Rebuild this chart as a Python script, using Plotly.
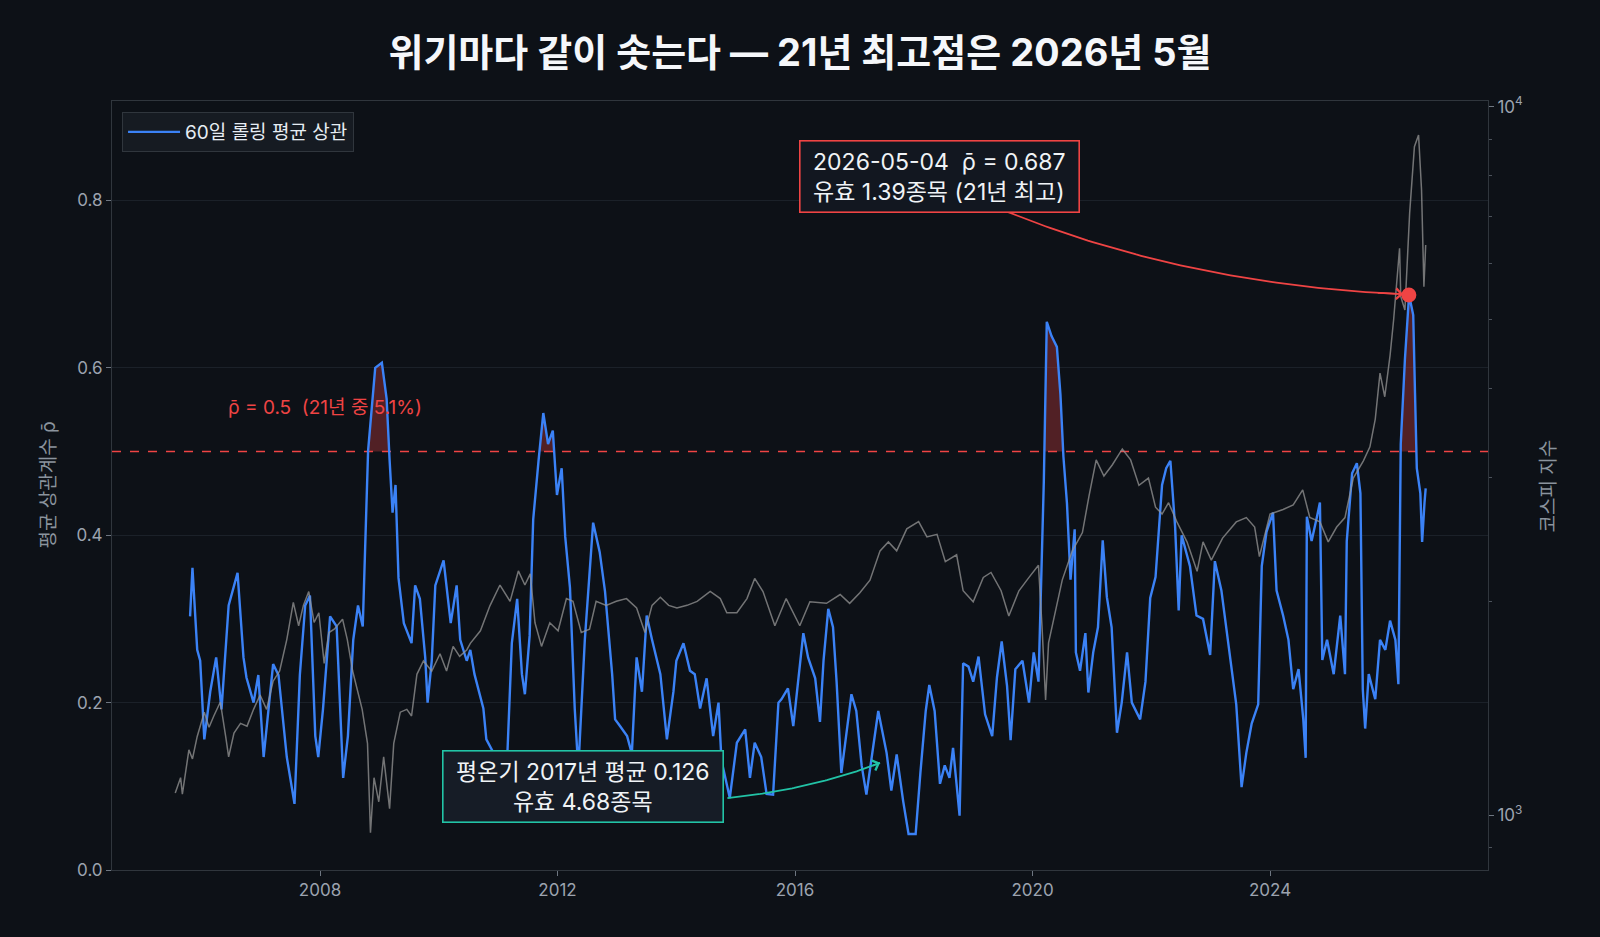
import numpy as np
import pandas as pd
import plotly.graph_objects as go

# 60-day rolling mean correlation (decimal year, value)
corr_t = [
    2005.81, 2005.85, 2005.93, 2005.98, 2006.05, 2006.15, 2006.25, 2006.34, 2006.46, 2006.61,
    2006.71, 2006.76, 2006.88, 2006.96, 2007.05, 2007.21, 2007.30, 2007.44, 2007.57, 2007.66,
    2007.75, 2007.83, 2007.92, 2007.97, 2008.05, 2008.17, 2008.28, 2008.39, 2008.47, 2008.56,
    2008.64, 2008.72, 2008.81, 2008.93, 2009.04, 2009.12, 2009.17, 2009.22, 2009.27, 2009.32,
    2009.41, 2009.54, 2009.60, 2009.68, 2009.77, 2009.81, 2009.88, 2009.94, 2010.08, 2010.20,
    2010.30, 2010.36, 2010.47, 2010.53, 2010.60, 2010.75, 2010.80, 2010.92, 2011.09, 2011.15,
    2011.23, 2011.32, 2011.40, 2011.45, 2011.53, 2011.59, 2011.68, 2011.76, 2011.84, 2011.92,
    2011.99, 2012.07, 2012.13, 2012.21, 2012.29, 2012.35, 2012.46, 2012.60, 2012.71, 2012.80,
    2012.92, 2012.97, 2013.05, 2013.17, 2013.25, 2013.33, 2013.42, 2013.50, 2013.59, 2013.73,
    2013.84, 2013.95, 2014.00, 2014.12, 2014.23, 2014.31, 2014.40, 2014.51, 2014.62, 2014.71,
    2014.76, 2014.90, 2015.02, 2015.16, 2015.24, 2015.32, 2015.43, 2015.52, 2015.63, 2015.72,
    2015.77, 2015.88, 2015.97, 2016.03, 2016.14, 2016.22, 2016.34, 2016.42, 2016.48, 2016.56,
    2016.64, 2016.70, 2016.78, 2016.86, 2016.95, 2017.03, 2017.12, 2017.20, 2017.28, 2017.40,
    2017.54, 2017.62, 2017.71, 2017.82, 2017.91, 2018.03, 2018.11, 2018.20, 2018.26, 2018.35,
    2018.44, 2018.52, 2018.60, 2018.66, 2018.77, 2018.83, 2018.92, 2019.00, 2019.09, 2019.20,
    2019.32, 2019.40, 2019.48, 2019.57, 2019.63, 2019.71, 2019.83, 2019.94, 2020.02, 2020.10,
    2020.13, 2020.19, 2020.24, 2020.32, 2020.41, 2020.47, 2020.52, 2020.58, 2020.64, 2020.71,
    2020.73, 2020.80, 2020.89, 2020.94, 2021.02, 2021.10, 2021.18, 2021.25, 2021.33, 2021.42,
    2021.50, 2021.59, 2021.67, 2021.81, 2021.90, 2021.98, 2022.07, 2022.18, 2022.25, 2022.32,
    2022.40, 2022.46, 2022.51, 2022.65, 2022.76, 2022.87, 2022.99, 2023.07, 2023.18, 2023.26,
    2023.35, 2023.43, 2023.52, 2023.60, 2023.69, 2023.80, 2023.86, 2023.94, 2024.05, 2024.11,
    2024.22, 2024.31, 2024.39, 2024.48, 2024.56, 2024.60, 2024.62, 2024.70, 2024.79, 2024.84,
    2024.88, 2024.96, 2025.07, 2025.18, 2025.26, 2025.29, 2025.38, 2025.46, 2025.52, 2025.56,
    2025.60, 2025.66, 2025.77, 2025.85, 2025.94, 2026.02, 2026.11, 2026.16, 2026.20, 2026.27,
    2026.34, 2026.41, 2026.44, 2026.47, 2026.53, 2026.56, 2026.60, 2026.62,
]
corr_v = [
    0.303, 0.361, 0.263, 0.250, 0.156, 0.213, 0.254, 0.192, 0.316, 0.355,
    0.254, 0.230, 0.200, 0.233, 0.135, 0.246, 0.233, 0.135, 0.079, 0.233,
    0.316, 0.328, 0.160, 0.135, 0.192, 0.303, 0.291, 0.110, 0.160, 0.275,
    0.316, 0.291, 0.501, 0.600, 0.606, 0.563, 0.490, 0.427, 0.460, 0.349,
    0.295, 0.271, 0.340, 0.324, 0.254, 0.200, 0.250, 0.340, 0.370, 0.295,
    0.340, 0.275, 0.250, 0.263, 0.234, 0.193, 0.156, 0.140, 0.140, 0.130,
    0.271, 0.324, 0.234, 0.210, 0.280, 0.419, 0.489, 0.546, 0.509, 0.525,
    0.448, 0.480, 0.398, 0.337, 0.193, 0.120, 0.275, 0.415, 0.380, 0.333,
    0.234, 0.180, 0.172, 0.160, 0.139, 0.254, 0.213, 0.304, 0.275, 0.234,
    0.156, 0.213, 0.250, 0.271, 0.238, 0.234, 0.193, 0.229, 0.160, 0.200,
    0.131, 0.086, 0.152, 0.168, 0.110, 0.152, 0.135, 0.091, 0.090, 0.200,
    0.204, 0.217, 0.172, 0.213, 0.283, 0.254, 0.229, 0.177, 0.250, 0.312,
    0.290, 0.225, 0.116, 0.160, 0.210, 0.190, 0.125, 0.090, 0.128, 0.190,
    0.140, 0.095, 0.138, 0.082, 0.043, 0.043, 0.116, 0.190, 0.221, 0.190,
    0.103, 0.125, 0.110, 0.146, 0.065, 0.247, 0.243, 0.225, 0.255, 0.186,
    0.160, 0.230, 0.273, 0.220, 0.155, 0.240, 0.250, 0.200, 0.260, 0.225,
    0.303, 0.464, 0.655, 0.638, 0.625, 0.568, 0.494, 0.438, 0.347, 0.407,
    0.260, 0.238, 0.283, 0.212, 0.260, 0.290, 0.394, 0.326, 0.290, 0.164,
    0.200, 0.260, 0.200, 0.180, 0.225, 0.325, 0.350, 0.460, 0.480, 0.489,
    0.410, 0.310, 0.400, 0.363, 0.304, 0.300, 0.257, 0.369, 0.334, 0.290,
    0.239, 0.198, 0.099, 0.140, 0.175, 0.198, 0.363, 0.404, 0.427, 0.334,
    0.304, 0.275, 0.216, 0.240, 0.180, 0.134, 0.422, 0.393, 0.422, 0.439,
    0.251, 0.275, 0.234, 0.304, 0.234, 0.393, 0.474, 0.486, 0.450, 0.216,
    0.169, 0.234, 0.204, 0.275, 0.263, 0.298, 0.275, 0.222, 0.509, 0.610,
    0.687, 0.663, 0.570, 0.480, 0.450, 0.392, 0.439, 0.456,
]

# KOSPI index (right log axis)
kospi_t = [
    2005.56, 2005.65, 2005.68, 2005.79, 2005.85, 2005.93, 2006.05, 2006.13, 2006.21, 2006.32,
    2006.41, 2006.46, 2006.55, 2006.66, 2006.77, 2006.88, 2006.99, 2007.10, 2007.21, 2007.32,
    2007.44, 2007.55, 2007.64, 2007.72, 2007.81, 2007.90, 2007.98, 2008.07, 2008.15, 2008.24,
    2008.38, 2008.46, 2008.55, 2008.63, 2008.71, 2008.80, 2008.85, 2008.91, 2008.99, 2009.07,
    2009.17, 2009.24, 2009.35, 2009.46, 2009.54, 2009.63, 2009.74, 2009.88, 2010.02, 2010.13,
    2010.24, 2010.35, 2010.47, 2010.53, 2010.70, 2010.86, 2011.03, 2011.20, 2011.34, 2011.45,
    2011.54, 2011.62, 2011.73, 2011.87, 2012.01, 2012.15, 2012.26, 2012.40, 2012.54, 2012.65,
    2012.82, 2012.99, 2013.16, 2013.33, 2013.47, 2013.59, 2013.73, 2013.87, 2014.01, 2014.18,
    2014.35, 2014.57, 2014.74, 2014.85, 2015.02, 2015.19, 2015.32, 2015.46, 2015.66, 2015.85,
    2016.08, 2016.25, 2016.53, 2016.76, 2016.92, 2017.09, 2017.26, 2017.43, 2017.57, 2017.71,
    2017.88, 2018.08, 2018.22, 2018.39, 2018.53, 2018.72, 2018.83, 2019.00, 2019.17, 2019.30,
    2019.47, 2019.60, 2019.77, 2019.94, 2020.10, 2020.16, 2020.22, 2020.27, 2020.38, 2020.50,
    2020.67, 2020.84, 2020.95, 2021.07, 2021.20, 2021.34, 2021.51, 2021.65, 2021.79, 2021.95,
    2022.07, 2022.18, 2022.29, 2022.43, 2022.60, 2022.77, 2022.87, 2023.01, 2023.20, 2023.43,
    2023.60, 2023.74, 2023.82, 2024.00, 2024.22, 2024.39, 2024.55, 2024.67, 2024.84, 2024.98,
    2025.12, 2025.26, 2025.40, 2025.57, 2025.68, 2025.77, 2025.85, 2025.93, 2026.02, 2026.08,
    2026.18, 2026.20, 2026.27, 2026.35, 2026.43, 2026.50, 2026.55, 2026.57, 2026.59, 2026.62,
]
kospi_v = [
    1074, 1129, 1070, 1236, 1200, 1291, 1397, 1330, 1380, 1444,
    1291, 1208, 1305, 1347, 1335, 1410, 1477, 1410, 1545, 1597,
    1769, 1996, 1850, 1977, 2068, 1870, 1930, 1637, 1810, 1830,
    1890, 1769, 1597, 1493, 1410, 1262, 944, 1129, 1044, 1208,
    1021, 1262, 1397, 1410, 1380, 1580, 1650, 1597, 1689, 1597,
    1730, 1675, 1710, 1747, 1820, 1974, 2112, 2003, 2211, 2112,
    2190, 1868, 1730, 1868, 1820, 2021, 2003, 1810, 1830, 2003,
    1977, 2003, 2021, 1960, 1810, 1977, 2030, 1977, 1960, 1977,
    2003, 2068, 2021, 1930, 1930, 2021, 2158, 2068, 1850, 2021,
    1850, 2000, 1990, 2048, 1990, 2060, 2146, 2360, 2430, 2360,
    2535, 2595, 2470, 2490, 2279, 2330, 2073, 2000, 2165, 2200,
    2073, 1910, 2073, 2165, 2252, 1845, 1454, 1750, 1940, 2146,
    2360, 2505, 2818, 3172, 3010, 3120, 3287, 3172, 2920, 2990,
    2720, 2660, 2760, 2593, 2430, 2208, 2430, 2290, 2460, 2593,
    2630, 2550, 2317, 2660, 2700, 2740, 2877, 2630, 2593, 2430,
    2550, 2630, 2990, 3163, 3310, 3622, 4207, 3895, 4456, 5003,
    6310, 5395, 5165, 7080, 8780, 9120, 7625, 6610, 5570, 6380,
]

threshold = 0.5
peak_date = "2026-05-04"
peak_val = 0.687
calm_t, calm_val = 2017.43, 0.126

BG = "#0d1117"
BLUE = "#3b82f6"
RED = "#ef4444"
TEAL = "#22c3a6"
FONT = "Inter, 'Noto Sans CJK KR', sans-serif"
NB = "\u00a0"


def to_date(t):
    y = int(np.floor(t))
    return pd.Timestamp(year=y, month=1, day=1) + pd.Timedelta(days=(t - y) * 365.25)


def bezier(p0, c, p2, n=80):
    s = np.linspace(0, 1, n)[:, None]
    p0, c, p2 = map(np.asarray, (p0, c, p2))
    return (1 - s) ** 2 * p0 + 2 * (1 - s) * s * c + s ** 2 * p2


ct = np.array(corr_t)
cv = np.array(corr_v)

# fill above the threshold: add crossing points so the shading meets the dashed line
ft, fv = [ct[0]], [cv[0]]
for i in range(len(ct) - 1):
    a, b = cv[i] - threshold, cv[i + 1] - threshold
    if a * b < 0:
        ft.append(ct[i] + (ct[i + 1] - ct[i]) * (-a) / (b - a))
        fv.append(threshold)
    ft.append(ct[i + 1])
    fv.append(cv[i + 1])
ft = np.array(ft)
fv = np.maximum(np.array(fv), threshold)
fdates = [to_date(t) for t in ft]

fig = go.Figure()

fig.add_trace(go.Scatter(x=fdates, y=[threshold] * len(ft), mode="lines",
                         line=dict(width=0), showlegend=False, hoverinfo="skip"))
fig.add_trace(go.Scatter(x=fdates, y=fv, mode="lines", line=dict(width=0),
                         fill="tonexty", fillcolor="rgba(239,68,68,0.30)",
                         showlegend=False, hoverinfo="skip"))
fig.add_trace(go.Scatter(x=[to_date(t) for t in corr_t], y=corr_v, mode="lines",
                         name="60일 롤링 평균 상관", line=dict(color=BLUE, width=2.4)))

# curved connectors for the two callouts
peak_t = 2026.34
red_curve = bezier((2019.59, 0.786), (2022.65, 0.699), (peak_t - 0.10, peak_val + 0.001))
teal_curve = bezier((2014.86, 0.086), (2016.25, 0.0956), (calm_t, calm_val + 0.002))
for curve, col in ((red_curve, RED), (teal_curve, TEAL)):
    fig.add_trace(go.Scatter(x=[to_date(t) for t in curve[:, 0]], y=curve[:, 1], mode="lines",
                             line=dict(color=col, width=1.8), showlegend=False, hoverinfo="skip"))

fig.add_trace(go.Scatter(x=[to_date(t) for t in kospi_t], y=kospi_v, mode="lines",
                         line=dict(color="rgba(150,150,150,0.75)", width=1.5),
                         yaxis="y2", showlegend=False, name="코스피"))

# arrow heads
for curve, col in ((red_curve, RED), (teal_curve, TEAL)):
    fig.add_annotation(x=to_date(curve[-1, 0]), y=curve[-1, 1],
                       ax=to_date(curve[-6, 0]), ay=curve[-6, 1],
                       xref="x", yref="y", axref="x", ayref="y", text="",
                       showarrow=True, arrowhead=4, arrowsize=1.3, arrowwidth=1.6,
                       arrowcolor=col, standoff=0)

fig.add_shape(type="line", xref="paper", x0=0, x1=1, yref="y", y0=threshold, y1=threshold,
              line=dict(color=RED, width=1.6, dash="dash"), layer="below")

fig.add_shape(type="circle", xref="x", yref="y", xsizemode="pixel", ysizemode="pixel",
              xanchor=peak_date, yanchor=peak_val, x0=-7.5, x1=7.5, y0=-7.5, y1=7.5,
              fillcolor=RED, line=dict(color=RED, width=0), layer="above")

fig.add_annotation(x=to_date(2018.43), y=0.829, xref="x", yref="y",
                   text=f"{NB}2026-05-04 {NB}ρ̄ = 0.687{NB}<br>{NB}유효 1.39종목 (21년 최고){NB}",
                   showarrow=False, align="left", xanchor="center", yanchor="middle",
                   font=dict(size=23, color="#f0f3f6", family=FONT),
                   bgcolor="#121720", bordercolor=RED, borderwidth=1.6, borderpad=6)

fig.add_annotation(x=to_date(2012.43), y=0.100, xref="x", yref="y",
                   text=f"{NB}평온기 2017년 평균 0.126{NB}<br>유효 4.68종목",
                   showarrow=False, align="center", xanchor="center", yanchor="middle",
                   font=dict(size=23, color="#f0f3f6", family=FONT),
                   bgcolor="#161c26", bordercolor=TEAL, borderwidth=1.6, borderpad=6)

fig.add_annotation(x=to_date(2006.42), y=0.553, xref="x", yref="y",
                   text=f"ρ̄ = 0.5{NB} (21년 중 5.1%)", showarrow=False,
                   xanchor="left", yanchor="middle", font=dict(size=19, color=RED, family=FONT))

fig.add_annotation(x=-0.0465, y=0.5, xref="paper", yref="paper", text="평균 상관계수 ρ̄",
                   xanchor="center", yanchor="middle", textangle=-90, showarrow=False,
                   font=dict(size=19, color="#8b949e", family=FONT))
fig.add_annotation(x=1.0443, y=0.5, xref="paper", yref="paper", text="코스피 지수",
                   xanchor="center", yanchor="middle", textangle=-90, showarrow=False,
                   font=dict(size=19, color="#8b949e", family=FONT))

axis_line = "#30363d"
tickfont = dict(size=17, color="#9ca3af", family=FONT)

fig.update_layout(
    width=1600, height=937,
    paper_bgcolor=BG, plot_bgcolor=BG,
    margin=dict(l=112, r=112, t=101, b=67),
    font=dict(family=FONT, color="#e6edf3"),
    title=dict(text="<b>위기마다 같이 솟는다 — 21년 최고점은 2026년 5월</b>",
               x=0.5, xanchor="center", y=1 - 53 / 937, yanchor="middle", yref="container",
               font=dict(size=38, color="#f5f7fa", family=FONT)),
    showlegend=True,
    legend=dict(x=0.0073, y=0.9857, xanchor="left", yanchor="top",
                bgcolor="#161b22", bordercolor=axis_line, borderwidth=1, itemwidth=52,
                font=dict(size=19, color="#e6edf3", family=FONT)),
    xaxis=dict(type="date", range=[to_date(2004.497), to_date(2027.67)],
               tick0="2008-01-01", dtick="M48", tickformat="%Y",
               showgrid=False, zeroline=False, showline=True, mirror=True,
               linecolor=axis_line, linewidth=1, ticks="outside", ticklen=5,
               tickcolor="#6e7681", tickfont=tickfont),
    yaxis=dict(range=[0, 0.9188], tickvals=[0, 0.2, 0.4, 0.6, 0.8], tickformat=".1f",
               showgrid=True, gridcolor="#1b2129", gridwidth=1, zeroline=False,
               showline=True, linecolor=axis_line, linewidth=1, ticks="outside",
               ticklen=5, tickcolor="#6e7681", tickfont=tickfont),
    yaxis2=dict(overlaying="y", side="right", type="log", range=[2.9224, 4.008],
                tickvals=[1000, 10000], ticktext=["10<sup>3</sup>", "10<sup>4</sup>"],
                showgrid=False, zeroline=False, showline=True, linecolor=axis_line,
                linewidth=1, ticks="outside", ticklen=5, tickcolor="#6e7681",
                tickfont=tickfont,
                minor=dict(tickvals=[900, 2000, 3000, 4000, 5000, 6000, 7000, 8000, 9000],
                           ticks="outside", ticklen=3, tickcolor="#4b525b", showgrid=False)),
)

fig.write_html("out.html", config={"displayModeBar": False},
               post_script="document.body.style.margin='0';"
                           "document.body.style.background='#0d1117';")
